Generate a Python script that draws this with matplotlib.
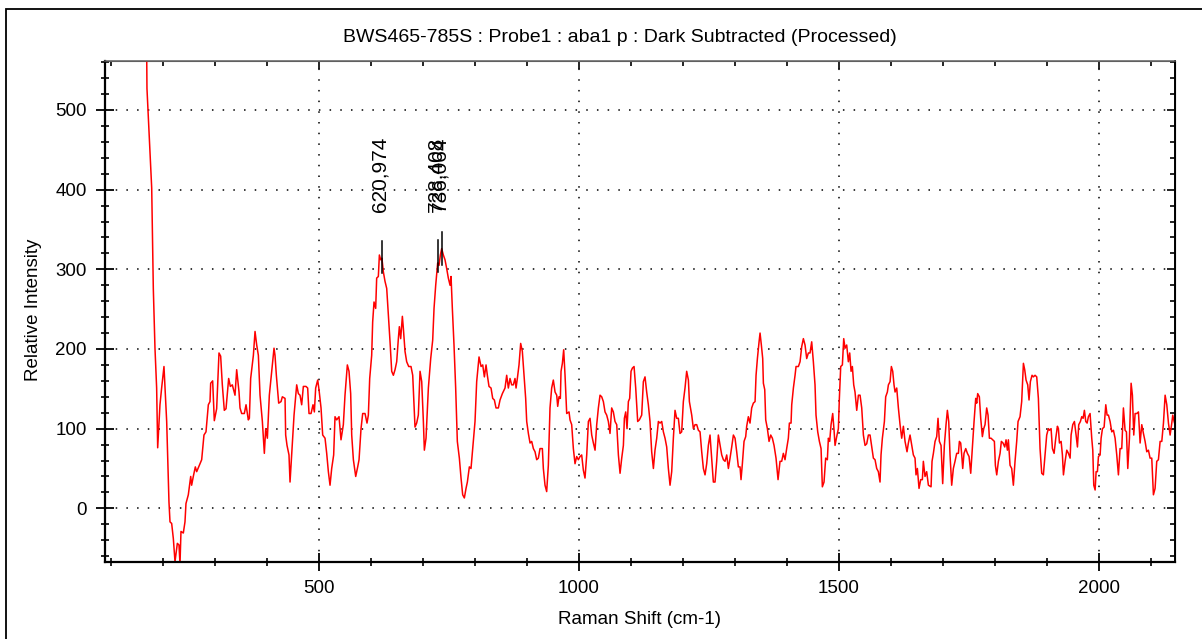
import matplotlib
matplotlib.use("Agg")
import matplotlib.pyplot as plt
from matplotlib.ticker import MultipleLocator
from matplotlib.patches import Rectangle

plt.rcParams['font.family'] = ['Liberation Sans', 'DejaVu Sans']

# spectrum (Raman shift cm-1 / relative intensity)
shift_a = [168.3, 169.2, 178.3, 181.4, 184.6, 187.8, 189.8, 194.2, 197.4, 201.9,
           207.1, 211.5, 213.5, 216.7, 219.9, 223.1, 227.6, 230.8, 232.7, 234.6,
           239.1, 242.3, 244.2, 248.7, 253.3, 255.1, 258.3, 262.2, 264.8, 269.9,
           274.4, 278.8, 282.7, 287.2, 290.4, 291.7, 295.5, 298.7, 303.2, 307.7,
           310.9, 314.1, 317.9, 321.2, 326.3, 329.5, 333.3]
inten_a = [600, 527, 402, 276, 201, 151, 76, 130, 151, 178,
           109, 8, -17, -19, -38, -67, -44, -46, -70, -29,
           -31, -17, 6, 17, 40, 29, 40, 52, 46, 54,
           61, 92, 96, 130, 134, 157, 160, 110, 125, 195,
           191, 155, 123, 125, 163, 153, 155]

shift_b = [338.5, 341.7, 346.2, 348.1, 351.3, 356.4, 359.7, 364.1, 366.1, 368.6,
           373.8, 377.0, 380.2, 383.4, 386.6, 391.1, 394.9, 397.5, 400.7, 404.5,
           407.7, 413.5, 415.4, 418.0, 422.5, 427.0, 429.5, 434.7, 435.9, 438.5,
           442.3, 444.3, 447.5, 452.0, 457.1, 460.3, 463.5, 466.7, 469.9, 475.0,
           478.2, 480.8, 484.7, 488.5, 491.1, 493.6, 497.5, 500.0, 503.9, 507.1,
           511.6, 514.8, 518.0, 521.2, 524.4, 528.2, 530.8, 534.0, 538.5, 542.3,
           546.8, 550.0, 554.5, 557.7, 560.9, 562.9, 566.1, 570.6, 574.4, 577.0,
           580.8, 584.0, 588.5, 592.3, 594.9, 597.5]
inten_b = [142, 174, 146, 126, 119, 119, 130, 111, 113, 163,
           192, 222, 205, 192, 142, 109, 69, 100, 88, 142,
           163, 201, 192, 167, 132, 134, 140, 138, 92, 79,
           67, 33, 67, 117, 155, 144, 142, 130, 153, 153,
           151, 119, 119, 130, 121, 151, 161, 149, 126, 92,
           88, 69, 46, 29, 50, 67, 115, 111, 115, 86,
           105, 142, 180, 172, 144, 92, 61, 40, 52, 61,
           100, 119, 119, 107, 117, 163]

shift_c = [601.3, 603.2, 605.8, 609.0, 610.9, 614.1, 616.1, 618.6, 621.0, 623.7,
           626.9, 630.2, 633.4, 636.6, 639.8, 643.0, 646.2, 649.4, 652.6, 654.5,
           657.1, 660.3, 662.2, 665.4, 668.6, 672.5, 676.9, 680.2, 682.7, 684.6,
           687.8, 691.0, 694.3, 697.5, 700.7, 702.6, 705.8, 710.3, 714.8, 718.6,
           721.2, 724.4, 728.2, 730.8, 733.4, 735.9, 739.1, 742.3, 745.5, 748.7,
           752.0, 753.9, 756.4, 759.6, 762.8, 766.0, 769.9, 773.1, 776.3, 779.5,
           782.7, 785.3, 789.1, 792.3, 795.5, 800.0, 803.2, 807.7, 811.6, 814.8,
           818.0, 821.2, 823.7, 826.9, 830.8, 834.0, 837.2, 840.4, 844.9, 848.1,
           852.6, 857.7]
inten_c = [192, 234, 259, 251, 289, 291, 318, 312, 314, 297,
           285, 276, 243, 209, 172, 167, 174, 184, 213, 228,
           213, 241, 226, 197, 184, 178, 178, 167, 130, 102,
           107, 117, 172, 159, 109, 73, 88, 151, 188, 211,
           251, 280, 308, 305, 318, 326, 318, 312, 301, 289,
           280, 291, 251, 205, 151, 84, 63, 38, 17, 13,
           25, 33, 52, 50, 75, 109, 159, 190, 178, 180,
           165, 180, 167, 153, 151, 138, 136, 126, 126, 136,
           144, 151]

shift_d = [860.9, 864.1, 867.3, 870.5, 873.7, 876.9, 878.9, 881.4, 884.6, 887.8,
           891.0, 894.2, 897.4, 899.4, 902.6, 905.8, 909.0, 912.2, 915.4, 918.6,
           921.8, 925.0, 929.5, 931.4, 934.6, 937.8, 941.0, 944.2, 947.4, 950.6,
           953.9, 957.1, 959.0, 961.5, 964.1, 965.4, 968.0, 970.5, 973.1, 976.3,
           980.8, 982.7, 985.9, 989.1, 992.3, 995.5, 998.7, 1001.9, 1005.1, 1008.3,
           1011.5, 1014.8, 1018.0, 1021.2, 1024.4, 1027.6, 1030.8, 1034.0, 1037.2, 1040.4,
           1043.6, 1046.8, 1050.0, 1053.2, 1056.4, 1059.6, 1062.8, 1066.0, 1069.2, 1072.5,
           1075.7, 1078.9, 1082.1, 1085.3, 1087.2, 1089.8, 1092.3, 1094.9, 1097.4, 1100.0,
           1102.6, 1105.8, 1109.0, 1112.8, 1116.0]
inten_d = [167, 151, 163, 155, 155, 163, 151, 163, 180, 207,
           197, 167, 138, 109, 94, 82, 84, 75, 71, 61,
           63, 75, 75, 50, 29, 21, 54, 126, 151, 161,
           146, 142, 128, 140, 138, 172, 182, 199, 167, 119,
           121, 111, 105, 75, 56, 65, 61, 65, 67, 48,
           38, 67, 109, 113, 92, 82, 73, 105, 126, 142,
           140, 134, 121, 117, 109, 94, 126, 121, 109, 105,
           67, 44, 63, 79, 113, 121, 100, 134, 138, 172,
           176, 178, 151, 109, 111]

shift_e = [1120.5, 1123.7, 1126.9, 1130.1, 1133.3, 1136.5, 1139.7, 1143.0, 1146.1, 1149.4,
           1152.6, 1155.8, 1159.0, 1162.2, 1165.4, 1168.6, 1171.8, 1175.0, 1178.2, 1181.4,
           1184.6, 1187.8, 1191.0, 1194.2, 1197.4, 1200.6, 1203.8, 1207.0, 1210.3, 1212.2,
           1216.7, 1219.9, 1223.1, 1226.3, 1229.5, 1232.7, 1235.9, 1239.1, 1242.3, 1245.5,
           1248.7, 1251.9, 1255.1, 1258.3, 1261.5, 1264.7, 1267.9, 1271.2, 1274.4, 1277.6,
           1280.8, 1284.0, 1287.2, 1290.4, 1293.6, 1296.8, 1300.0, 1303.2, 1306.4, 1309.6,
           1311.5, 1314.1, 1317.3, 1320.5, 1322.4, 1325.6, 1328.8, 1332.0, 1335.2, 1338.5,
           1340.4, 1343.0, 1346.2, 1348.1, 1350.6, 1353.2, 1354.5, 1357.1, 1359.0, 1362.2,
           1365.4, 1368.6, 1371.8, 1375.0, 1378.8, 1382.7]
inten_e = [117, 159, 165, 146, 130, 109, 71, 50, 73, 88,
           109, 107, 109, 96, 88, 77, 50, 29, 46, 88,
           123, 113, 113, 94, 96, 134, 151, 172, 161, 134,
           117, 100, 105, 105, 98, 96, 71, 50, 42, 56,
           79, 92, 63, 33, 33, 59, 92, 79, 67, 61,
           59, 67, 50, 63, 77, 92, 88, 71, 52, 52,
           36, 56, 84, 90, 103, 115, 107, 126, 132, 134,
           167, 188, 209, 220, 205, 188, 157, 149, 111, 100,
           84, 92, 88, 79, 63, 36]

shift_f = [1386.5, 1389.7, 1392.9, 1396.1, 1399.3, 1402.5, 1404.5, 1407.7, 1409.0, 1412.2,
           1415.4, 1417.3, 1421.8, 1425.0, 1428.2, 1431.4, 1434.6, 1437.8, 1441.0, 1444.2,
           1447.4, 1450.6, 1453.8, 1455.7, 1459.0, 1462.2, 1465.4, 1467.9, 1471.1, 1474.3,
           1477.5, 1479.5, 1482.0, 1484.6, 1487.8, 1490.4, 1492.3, 1495.5, 1498.7, 1500.6,
           1503.2, 1506.4, 1509.0, 1511.5, 1514.7, 1517.9, 1520.5, 1523.1, 1525.6, 1528.2,
           1530.7, 1534.0, 1537.2, 1540.4, 1543.6, 1546.8, 1550.0, 1553.2, 1556.4, 1559.6,
           1562.8, 1566.0, 1569.2, 1572.4, 1575.6, 1578.8, 1580.7, 1583.3, 1587.2, 1589.7,
           1592.9, 1594.9, 1598.1, 1600.6, 1603.2, 1605.7, 1607.7, 1610.9, 1614.1, 1617.3,
           1620.5, 1623.7, 1626.9, 1630.7, 1633.3, 1636.5]
inten_f = [59, 59, 69, 61, 75, 88, 107, 107, 130, 151,
           167, 178, 178, 184, 203, 213, 205, 188, 195, 195,
           209, 184, 155, 117, 96, 84, 75, 27, 33, 63,
           61, 88, 84, 105, 119, 98, 79, 90, 100, 138,
           178, 180, 213, 201, 205, 184, 195, 172, 178, 155,
           146, 123, 142, 142, 126, 92, 79, 81, 92, 92,
           77, 63, 61, 50, 46, 33, 67, 88, 109, 140,
           146, 155, 159, 178, 172, 155, 146, 151, 126, 105,
           88, 103, 84, 71, 82, 92]

shift_g = [1642.9, 1646.1, 1648.0, 1650.6, 1653.8, 1657.0, 1660.2, 1662.1, 1665.3, 1668.5,
           1671.8, 1676.9, 1678.8, 1681.4, 1684.6, 1687.8, 1690.3, 1692.9, 1696.1, 1699.3,
           1702.5, 1705.7, 1708.3, 1710.9, 1713.4, 1716.6, 1719.8, 1723.0, 1726.2, 1729.5,
           1731.4, 1733.9, 1735.9, 1737.8, 1740.3, 1743.6, 1746.8, 1750.0, 1753.2, 1756.4,
           1759.6, 1762.8, 1764.7, 1766.6, 1769.8, 1772.4, 1775.6, 1778.2, 1780.7, 1783.9,
           1786.5, 1789.1, 1792.3, 1795.5, 1798.7, 1800.6, 1803.2, 1806.4, 1809.6, 1812.1,
           1815.3, 1818.6, 1821.1, 1823.7, 1825.6, 1828.8, 1832.0, 1835.2, 1838.4, 1841.6,
           1844.2, 1848.0, 1851.2, 1854.5, 1857.0, 1859.6, 1862.8, 1865.3, 1867.9, 1871.1,
           1873.7, 1876.9, 1880.1, 1883.3, 1886.5, 1889.7, 1892.9, 1896.2, 1899.3, 1902.5]
inten_g = [67, 63, 42, 50, 25, 36, 36, 59, 40, 46,
           29, 27, 59, 69, 84, 90, 113, 84, 79, 31,
           79, 105, 123, 109, 67, 29, 50, 59, 69, 69,
           84, 82, 67, 50, 69, 75, 69, 65, 44, 77,
           109, 138, 132, 144, 140, 113, 90, 100, 105, 126,
           117, 88, 88, 86, 84, 54, 42, 59, 69, 84,
           82, 77, 86, 73, 86, 54, 50, 29, 59, 84,
           109, 115, 134, 182, 174, 161, 155, 136, 159, 167,
           165, 167, 165, 138, 75, 44, 42, 67, 92, 100]

shift_h = [1904.5, 1907.7, 1910.3, 1913.5, 1916.7, 1919.9, 1921.8, 1923.8, 1927.0, 1929.5,
           1931.5, 1934.7, 1937.9, 1941.1, 1944.3, 1946.2, 1949.4, 1952.6, 1955.8, 1958.4,
           1960.9, 1964.1, 1966.7, 1969.3, 1971.8, 1974.4, 1977.0, 1979.5, 1982.7, 1985.9,
           1987.9, 1989.8, 1992.4, 1994.3, 1996.8, 1998.8, 2002.0, 2003.9, 2006.5, 2009.7,
           2012.9, 2015.4, 2018.0, 2021.2, 2024.4, 2027.6, 2030.8, 2034.0, 2037.2, 2040.4,
           2043.6, 2046.8, 2050.0, 2052.6, 2055.2, 2058.4, 2061.6, 2064.1, 2066.7, 2069.3,
           2072.5, 2075.7, 2078.9, 2082.1, 2085.3, 2088.5, 2091.7, 2094.9, 2098.1, 2101.3,
           2104.5, 2107.7, 2110.9, 2114.1, 2117.4, 2120.6, 2123.8, 2127.0, 2130.2, 2133.4,
           2136.6, 2139.8, 2141.7, 2144.3, 2148.0]
inten_h = [98, 100, 75, 69, 88, 103, 100, 82, 84, 67,
           42, 59, 73, 69, 63, 92, 105, 109, 92, 77,
           105, 109, 115, 113, 123, 109, 107, 115, 119, 88,
           73, 29, 23, 46, 46, 65, 67, 88, 100, 102,
           130, 117, 117, 109, 96, 98, 88, 67, 42, 75,
           75, 126, 98, 96, 50, 88, 157, 142, 92, 119,
           119, 121, 82, 105, 94, 84, 71, 73, 63, 63,
           17, 25, 59, 61, 84, 84, 107, 142, 130, 107,
           92, 107, 117, 109, 100]

# peak markers
peak_shift = [620.974, 728.408, 736.064]
peak_label = ["620,974", "728,408", "736,064"]
peak_low = [295, 297, 305]
peak_high = [335, 337, 347]
label_base = 372

shift = shift_a + shift_b + shift_c + shift_d + shift_e + shift_f + shift_g + shift_h
inten = inten_a + inten_b + inten_c + inten_d + inten_e + inten_f + inten_g + inten_h

W, H = 1202, 639
fig = plt.figure(figsize=(W / 100, H / 100), dpi=100)
ax = fig.add_axes([105 / W, 1 - 561.7 / H, 1070 / W, 500.7 / H])

# outer frame of the window (cut off at right and bottom)
fig.patches.append(Rectangle((6 / W, -0.5), 2, 1.5 - 9 / H, transform=fig.transFigure,
                             fill=False, edgecolor='black', linewidth=1.3))

ax.plot(shift, inten, color='red', linewidth=1.1)

for x, lo, hi, lab in zip(peak_shift, peak_low, peak_high, peak_label):
    ax.plot([x, x], [lo, hi], color='black', linewidth=1.1)
    ax.text(x - 4, label_base, lab, rotation=90, ha='center', va='bottom', fontsize=15)

ax.set_xlim(88.5, 2146)
ax.set_ylim(-67, 561.5)
ax.xaxis.set_major_locator(MultipleLocator(500))
ax.xaxis.set_minor_locator(MultipleLocator(100))
ax.yaxis.set_major_locator(MultipleLocator(100))
ax.yaxis.set_minor_locator(MultipleLocator(20))
ax.grid(which='major', color='black', linestyle=(0, (1, 6)), linewidth=1.1)
ax.tick_params(which='major', direction='inout', length=12.5, width=1.3, labelsize=13.5, pad=7)
ax.tick_params(which='minor', direction='inout', length=5.5, width=1.2)

for side in ['left', 'bottom']:
    ax.spines[side].set_linewidth(1.6)
ax.spines['right'].set_linewidth(1.4)
ax.spines['top'].set_color('#606060')
ax.spines['top'].set_linewidth(1.1)

top = ax.secondary_xaxis('top')
top.xaxis.set_major_locator(MultipleLocator(500))
top.xaxis.set_minor_locator(MultipleLocator(100))
top.tick_params(which='both', direction='in', labeltop=False, width=1.2)
top.tick_params(which='major', length=6)
top.tick_params(which='minor', length=3.5)
top.spines['top'].set_color('#606060')

right = ax.secondary_yaxis('right')
right.yaxis.set_major_locator(MultipleLocator(100))
right.yaxis.set_minor_locator(MultipleLocator(20))
right.tick_params(which='both', direction='in', labelright=False, width=1.2)
right.tick_params(which='major', length=6)
right.tick_params(which='minor', length=3.5)

fig.text(620 / W, 1 - 38 / H, 'BWS465-785S : Probe1 : aba1 p : Dark Subtracted (Processed)',
         ha='center', va='center', fontsize=14)
fig.text(640 / W, 1 - 620 / H, 'Raman Shift (cm-1)', ha='center', va='center', fontsize=13.5)
fig.text(33 / W, 1 - 310 / H, 'Relative Intensity', ha='center', va='center',
         rotation=90, fontsize=13.5)

fig.savefig('out.png', dpi=100)
